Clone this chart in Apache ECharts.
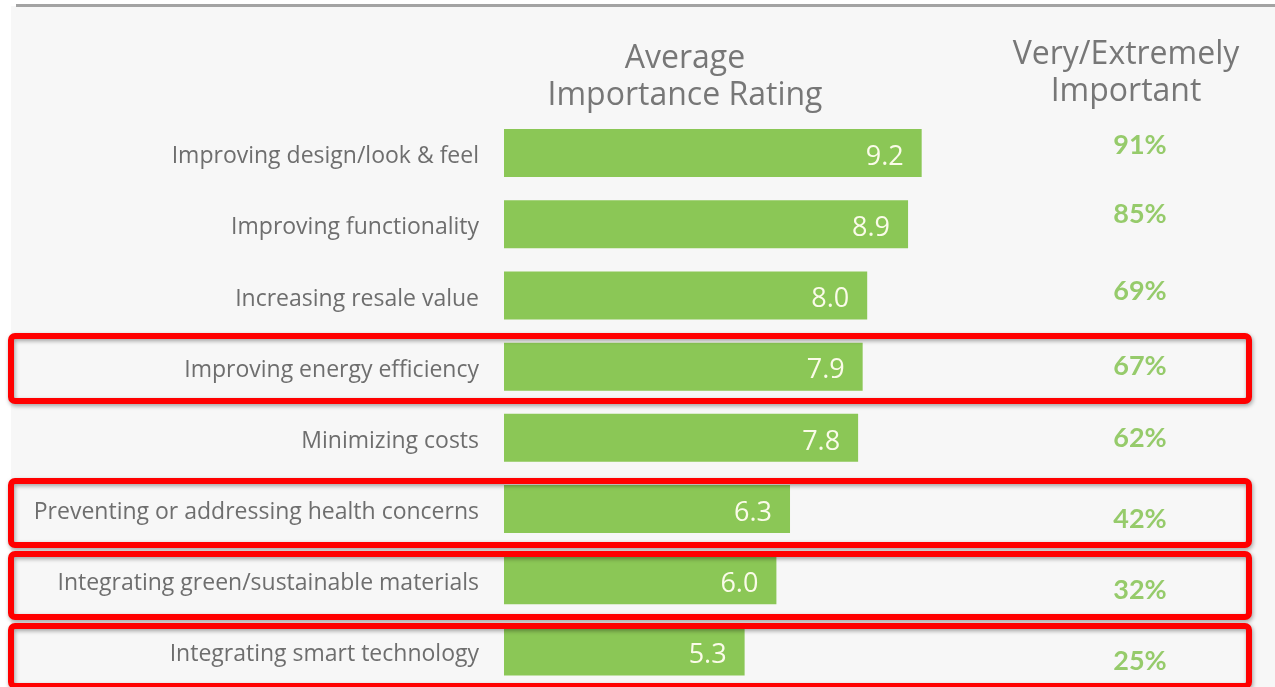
<!DOCTYPE html>
<html>
<head>
<meta charset="utf-8">
<script src="https://cdn.jsdelivr.net/npm/echarts@6/dist/echarts.min.js"></script>
<style>
  html, body { margin: 0; padding: 0; background: #ffffff; }
  #chart { width: 1275px; height: 687px; }
</style>
</head>
<body>
<div id="chart"></div>
<script>
// data
var categories = [
    'Improving design/look & feel',
    'Improving functionality',
    'Increasing resale value',
    'Improving energy efficiency',
    'Minimizing costs',
    'Preventing or addressing health concerns',
    'Integrating green/sustainable materials',
    'Integrating smart technology'
];
var ratings = [9.2, 8.9, 8.0, 7.9, 7.8, 6.3, 6.0, 5.3];
var veryImportant = [91, 85, 69, 67, 62, 42, 32, 25];

// small vertical nudges of the percent column (as drawn in the original)
var pctNudge = [-8, -10, -4, 0, 0, 10, 10, 10];

var myChart = echarts.init(document.getElementById('chart'));

var gridTop = 117.5;
var gridHeight = 573.3;

// red boxes around highlighted rows (annotation, not data)
var boxes = [
    { y: 336, h: 65 },
    { y: 481, h: 64 },
    { y: 554, h: 63 },
    { y: 626, h: 60 }
];

var graphics = [
    // grey panel behind the chart
    { type: 'rect', z: -10, shape: { x: 11, y: 6, width: 1264, height: 681 }, style: { fill: '#f7f7f7' } },
    // rule at the top
    { type: 'rect', z: -9, shape: { x: 16, y: 4, width: 1259, height: 3 }, style: { fill: '#a3a3a3' } }
];

graphics.push({
    type: 'text', x: 685, y: 40,
    style: {
        text: 'Average\nImportance Rating', textAlign: 'center', fill: '#777777',
        font: '32px "Open Sans"', lineHeight: 37
    }
});
graphics.push({
    type: 'text', x: 1126, y: 36,
    style: {
        text: 'Very/Extremely\nImportant', textAlign: 'center', fill: '#777777',
        font: '32px "Open Sans"', lineHeight: 37
    }
});

boxes.forEach(function (b) {
    graphics.push({
        type: 'rect', z: 100,
        shape: { x: 11, y: b.y, width: 1238, height: b.h, r: 4 },
        style: {
            fill: 'none', stroke: '#ff0000', lineWidth: 6,
            shadowBlur: 4, shadowColor: 'rgba(0,0,0,0.35)', shadowOffsetX: 1, shadowOffsetY: 2
        }
    });
});

var pctData = veryImportant.map(function (v, i) {
    return {
        value: [0, i],
        label: { offset: [0, pctNudge[i]] }
    };
});

var option = {
    animation: false,
    backgroundColor: '#ffffff',
    graphic: graphics,
    grid: [
        { left: 504, width: 454, top: gridTop, height: gridHeight },
        { left: 1040, width: 200, top: gridTop, height: gridHeight }
    ],
    xAxis: [
        { gridIndex: 0, type: 'value', min: 0, max: 10, show: false },
        { gridIndex: 1, type: 'value', min: -1, max: 1, show: false }
    ],
    yAxis: [
        {
            gridIndex: 0,
            type: 'category',
            inverse: true,
            data: categories,
            axisLine: { show: false },
            axisTick: { show: false },
            splitLine: { show: false },
            axisLabel: {
                margin: 25,
                color: '#6e6e6e',
                fontFamily: 'Open Sans',
                fontSize: 23,
                verticalAlign: 'top',
                lineHeight: 7
            }
        },
        {
            gridIndex: 1,
            type: 'category',
            inverse: true,
            data: categories,
            show: false
        }
    ],
    series: [
        {
            name: 'Average Importance Rating',
            type: 'bar',
            xAxisIndex: 0,
            yAxisIndex: 0,
            data: ratings,
            barWidth: 48,
            itemStyle: { color: '#8bc756' },
            label: {
                show: true,
                position: 'insideRight',
                distance: 18,
                offset: [0, 4],
                color: '#fbfbe9',
                fontFamily: 'Open Sans',
                fontSize: 27,
                formatter: function (p) { return p.value.toFixed(1); }
            }
        },
        {
            name: 'Very/Extremely Important',
            type: 'scatter',
            xAxisIndex: 1,
            yAxisIndex: 1,
            symbolSize: 0,
            data: pctData,
            label: {
                show: true,
                position: 'inside',
                color: '#7dbf47',
                fontFamily: 'Lato',
                fontWeight: 'bold',
                fontSize: 27,
                formatter: function (p) { return veryImportant[p.dataIndex] + '%'; }
            }
        }
    ]
};

myChart.setOption(option);
</script>
</body>
</html>
